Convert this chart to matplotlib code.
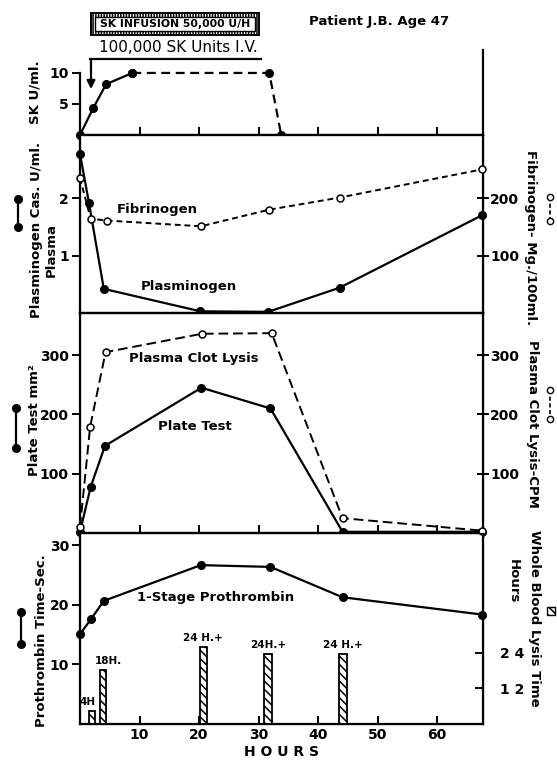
import matplotlib
matplotlib.use("Agg")
import matplotlib.pyplot as plt
from matplotlib.lines import Line2D
from matplotlib.patches import Rectangle

plt.rcParams['font.family'] = ['DejaVu Sans']
plt.rcParams['font.weight'] = 'bold'
plt.rcParams['axes.labelweight'] = 'bold'
plt.rcParams['hatch.linewidth'] = 1.1

W, H = 557, 761

# SK level (U/ml)
sk_h = [0, 2.2, 4.4, 8.8]
sk_v = [0, 4.3, 8.2, 10]
sk_inf_h = [8.8, 31.8, 33.8]
sk_inf_v = [10, 10, 0]

# plasminogen (cas. U/ml) and fibrinogen (mg/100ml)
plasminogen_h = [0, 1.5, 4.0, 20.2, 31.6, 43.6, 67.5]
plasminogen_v = [2.77, 1.92, 0.42, 0.03, 0.02, 0.44, 1.70]
fibrinogen_h = [0, 1.8, 4.6, 20.3, 31.8, 43.6, 67.5]
fibrinogen_v = [235, 164, 161, 151, 180, 201, 250]

# plate test (mm2) and plasma clot lysis (CPM)
plate_h = [0, 1.8, 4.2, 20.4, 32.0, 44.1, 67.5]
plate_v = [2, 78, 147, 245, 210, 2, 2]
clot_h = [0, 1.7, 4.3, 20.5, 32.2, 44.1, 67.5]
clot_v = [10, 179, 305, 336, 337, 25, 4]

# prothrombin time (sec) and whole blood lysis time (hours)
prothrombin_h = [0, 1.9, 4.0, 20.3, 32.0, 44.1, 67.5]
prothrombin_v = [15.1, 17.7, 20.7, 26.7, 26.4, 21.3, 18.4]
lysis_h = [2.0, 3.9, 20.7, 31.6, 44.2]
lysis_v = [4.4, 18.2, 26, 23.6, 23.6]
lysis_lab = ['4H', '18H.', '24 H.+', '24H.+', '24 H.+']

hour_ticks = [10, 20, 30, 40, 50, 60]


def fx(px):
    return px / W


def fy(py):
    return 1 - py / H


fig = plt.figure(figsize=(W / 100, H / 100), dpi=100)
L, R = fx(80), fx(483)
tops = [50, 135, 313, 533, 724]
axes = []
for i in range(4):
    ax = fig.add_axes([L, fy(tops[i + 1]), R - L, fy(tops[i]) - fy(tops[i + 1])])
    ax.set_xlim(0, 67.7)
    ax.set_xticks(hour_ticks)
    for s in ax.spines.values():
        s.set_linewidth(1.6)
    ax.tick_params(axis='y', direction='out', length=6, width=1.4, labelsize=10, pad=2)
    ax.tick_params(axis='x', direction='in', length=6, width=1.4, labelsize=10, pad=3)
    axes.append(ax)
ax1, ax2, ax3, ax4 = axes

line_kw = dict(color='k', lw=1.6, marker='o', ms=5.5, clip_on=False, zorder=5)
open_kw = dict(color='k', lw=1.4, marker='o', ms=5, mfc='white', mew=1.1, clip_on=False, zorder=5)

# panel 1
ax1.plot(sk_h, sk_v, **line_kw)
ax1.plot(sk_inf_h, sk_inf_v, dashes=(4, 2.5), **line_kw)
ax1.set_ylim(0, 13.7)
ax1.set_yticks([5, 10])
ax1.spines['top'].set_visible(False)
ax1.spines['left'].set_bounds(0, 10)
ax1.tick_params(axis='x', labelbottom=False)
ax1.set_ylabel('SK U/ml.', fontsize=9.5, labelpad=6)
ax1.annotate('', xy=(1.85, 7.4), xytext=(fx(91), fy(59)), textcoords='figure fraction',
             arrowprops=dict(arrowstyle='-|>', color='k', lw=1.6, mutation_scale=12,
                             shrinkA=0, shrinkB=0))
fig.add_artist(Line2D([fx(90), fx(261)], [fy(59), fy(59)], color='k', lw=1.6))
fig.text(fx(178), fy(48), '100,000 SK Units I.V.', ha='center', va='center', fontsize=11,
         fontweight='normal')
fig.text(fx(379), fy(21), 'Patient J.B. Age 47', ha='center', va='center', fontsize=9.5)
fig.add_artist(Rectangle((fx(91), fy(35)), fx(259) - fx(91), fy(13) - fy(35),
                         transform=fig.transFigure, facecolor='white', edgecolor='k',
                         hatch='||||||', lw=1.4))
fig.add_artist(Rectangle((fx(95), fy(31)), fx(255) - fx(95), fy(17) - fy(31),
                         transform=fig.transFigure, facecolor='white', edgecolor='k', lw=1.0))
fig.text(fx(175), fy(24), 'SK INFUSION 50,000 U/H', ha='center', va='center', fontsize=7.8)

# panel 2
ax2.plot(plasminogen_h, plasminogen_v, **line_kw)
ax2.set_ylim(0, 3.1)
ax2.set_yticks([1, 2])
ax2.tick_params(axis='x', length=0, pad=4)
ax2r = ax2.twinx()
ax2r.plot(fibrinogen_h, fibrinogen_v, dashes=(3, 2), **open_kw)
ax2r.set_ylim(0, 310)
ax2r.set_yticks([100, 200])
ax2r.tick_params(axis='y', direction='inout', length=8, width=1.4, labelsize=10, pad=1)
ax2.text(13, 1.8, 'Fibrinogen', ha='center', va='center', fontsize=9.5)
ax2.text(18.3, 0.46, 'Plasminogen', ha='center', va='center', fontsize=9.5)

# panel 3
ax3.plot(plate_h, plate_v, **line_kw)
ax3.set_ylim(0, 371)
ax3.set_yticks([100, 200, 300])
ax3r = ax3.twinx()
ax3r.plot(clot_h, clot_v, dashes=(5, 2.5), **open_kw)
ax3r.set_ylim(0, 371)
ax3r.set_yticks([100, 200, 300])
ax3r.tick_params(axis='y', direction='inout', length=8, width=1.4, labelsize=10, pad=1)
ax3.text(19.2, 294, 'Plasma Clot Lysis', ha='center', va='center', fontsize=9.5)
ax3.text(19.3, 179, 'Plate Test', ha='center', va='center', fontsize=9.5)

# panel 4
ax4.plot(prothrombin_h, prothrombin_v, **line_kw)
ax4.set_ylim(0, 32.1)
ax4.set_yticks([10, 20, 30])
ax4.set_xlabel('H O U R S', fontsize=10, labelpad=2)
ax4r = ax4.twinx()
ax4r.set_ylim(0, 64.2)
ax4r.set_yticks([12, 24])
ax4r.set_yticklabels(['1 2', '2 4'])
ax4r.tick_params(axis='y', direction='in', length=6, width=1.4, labelsize=10, pad=12)
ax4r.bar(lysis_h, lysis_v, width=[0.9, 1.1, 1.25, 1.25, 1.25], color='white',
         edgecolor='k', hatch='\\\\\\\\', lw=1.3)
lab_shift = [-0.7, 0.9, 0, 0, 0]
for x, v, lab, dx in zip(lysis_h, lysis_v, lysis_lab, lab_shift):
    ax4r.text(x + dx, v + 1.2, lab, ha='center', va='bottom', fontsize=7.5)
ax4.text(22.7, 21.3, '1-Stage Prothrombin', ha='center', va='center', fontsize=9.5)

# axis titles on the sides
side_kw = dict(ha='center', va='center', fontsize=9.5)
fig.text(fx(37), fy(230), 'Plasminogen Cas. U/ml.', rotation=90, **side_kw)
fig.text(fx(51), fy(250), 'Plasma', rotation=90, **side_kw)
fig.text(fx(35), fy(420), 'Plate Test mm²', rotation=90, **side_kw)
fig.text(fx(42), fy(641), 'Prothrombin Time-Sec.', rotation=90, **side_kw)
fig.text(fx(531), fy(238), 'Fibrinogen- Mg./100ml.', rotation=270, **side_kw)
fig.text(fx(532), fy(424), 'Plasma Clot Lysis-CPM', rotation=270, **side_kw)
fig.text(fx(534), fy(618), 'Whole Blood Lysis Time', rotation=270, **side_kw)
fig.text(fx(513), fy(581), 'Hours', rotation=270, **side_kw)

# key symbols
for x, y0, y1 in [(18, 199, 227), (16, 408, 448), (21, 612, 644)]:
    fig.add_artist(Line2D([fx(x), fx(x)], [fy(y0), fy(y1)], color='k', lw=1.6,
                          marker='o', ms=5.5))
for y0, y1 in [(197, 221), (390, 419)]:
    fig.add_artist(Line2D([fx(550), fx(550)], [fy(y0), fy(y1)], color='k', lw=1.2,
                          dashes=(2.5, 1.5), marker='o', ms=4.5, mfc='white', mew=1.0))
fig.add_artist(Rectangle((fx(547), fy(615)), fx(555) - fx(547), fy(607) - fy(615),
                         transform=fig.transFigure, facecolor='white', edgecolor='k',
                         hatch='\\\\\\\\', lw=1.0))

fig.savefig('out.png', dpi=100)
